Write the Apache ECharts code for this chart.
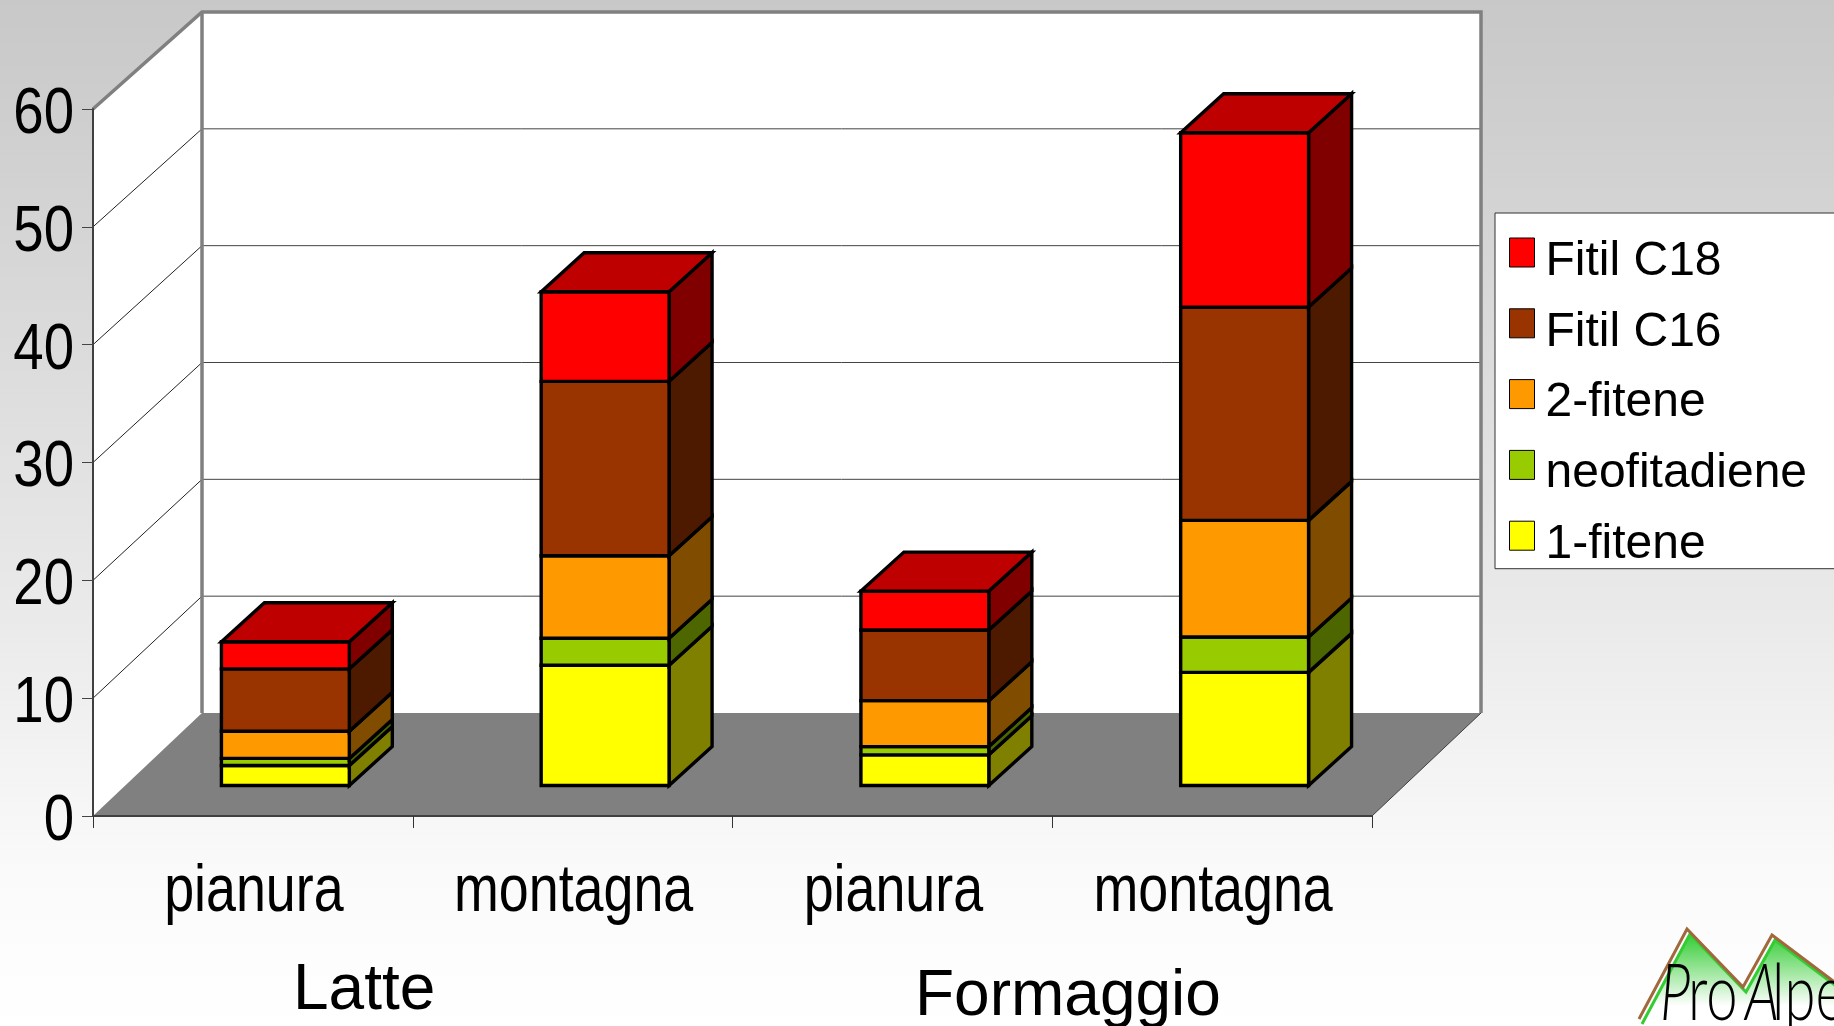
<!DOCTYPE html>
<html>
<head>
<meta charset="utf-8">
<style>html,body{margin:0;padding:0;background:#fff}#chart{width:1834px;height:1026px}</style>
<script src="https://cdn.jsdelivr.net/npm/echarts@6/dist/echarts.min.js"></script>
</head>
<body>
<div id="chart"></div>
<script>
// Phytene and phytyl compounds in milk and cheese, lowland versus mountain
const categories = ['pianura', 'montagna', 'pianura', 'montagna'];
const yTicks = [0, 10, 20, 30, 40, 50, 60];
const fitene1 = [1.7, 10.2, 2.6, 9.6];
const neofitadiene = [0.6, 2.3, 0.7, 3.0];
const fitene2 = [2.3, 7.0, 3.9, 9.9];
const fitilC16 = [5.3, 14.8, 6.0, 18.1];
const fitilC18 = [2.3, 7.6, 3.3, 14.8];

const stack = [
  { name: '1-fitene', values: fitene1, front: '#ffff00', side: '#808000' },
  { name: 'neofitadiene', values: neofitadiene, front: '#99cc00', side: '#4d6600' },
  { name: '2-fitene', values: fitene2, front: '#ff9900', side: '#804d00' },
  { name: 'Fitil C16', values: fitilC16, front: '#993300', side: '#4d1a00' },
  { name: 'Fitil C18', values: fitilC18, front: '#ff0000', side: '#800000', topFace: '#bf0000' }
];

// Oblique projection of the chart box
const BOX_DX = 109, BOX_DY = -103, BOX_TOP_DY = -97;
const BAR_SHIFT_X = 32.5, BAR_SHIFT_Y = -30.5;
const BAR_DX = 43, BAR_DY = -39;
const BAR_WIDTH_RATIO = 0.4;
const WALL = '#808080';
const SANS = '"Liberation Sans", Arial, sans-serif';
// Legend swatch: a 25x29 box sitting above the centre of its text line
const SWATCH = 'path://M0 0H25V29H0Z M0 47h0';

const chart = echarts.init(document.getElementById('chart'));

function renderBox(params, api) {
  const cs = params.coordSys;
  const v = api.value(0);
  const maxV = yTicks[yTicks.length - 1];
  const children = [];
  const back = (val, y) => y + BOX_DY + (BOX_TOP_DY - BOX_DY) * val / maxV;
  const L = cs.x, R = cs.x + cs.width, T = cs.y, B = cs.y + cs.height;
  const bL = L + BOX_DX, bR = R + BOX_DX, bT = back(maxV, T), bB = back(0, B);
  if (params.dataIndex === 0) {
    children.push(
      { type: 'polygon', shape: { points: [[L, T], [bL, bT], [bL, bB], [L, B]] }, style: { fill: '#fff' } },
      { type: 'rect', shape: { x: bL, y: bT, width: bR - bL, height: bB - bT }, style: { fill: '#fff' } },
      { type: 'polygon', shape: { points: [[L, B], [bL, bB], [bR, bB], [R, B]] }, style: { fill: WALL } },
      { type: 'line', shape: { x1: R, y1: B, x2: bR, y2: bB }, style: { stroke: '#404040', lineWidth: 1 } }
    );
  }
  const y = api.coord([0, v])[1];
  if (v > 0 && v < maxV) {
    children.push(
      { type: 'line', shape: { x1: L, y1: y, x2: bL, y2: back(v, y) }, style: { stroke: '#222', lineWidth: 1 } },
      { type: 'line', shape: { x1: bL, y1: back(v, y), x2: bR, y2: back(v, y) }, style: { stroke: '#444', lineWidth: 1 } }
    );
  }
  if (params.dataIndex === yTicks.length - 1) {
    children.push({
      type: 'polyline',
      shape: { points: [[L, T], [bL, bT], [bR, bT], [bR, bB]] },
      style: { fill: 'none', stroke: WALL, lineWidth: 3.5 }
    }, {
      type: 'line',
      shape: { x1: bL, y1: bT, x2: bL, y2: bB },
      style: { stroke: WALL, lineWidth: 3.5 }
    });
  }
  return { type: 'group', children };
}

function renderSegment(layer) {
  return function (params, api) {
    const i = api.value(0);
    const lowPt = api.coord([i, api.value(1)]);
    const highPt = api.coord([i, api.value(2)]);
    const half = api.size([1, 0])[0] * BAR_WIDTH_RATIO / 2;
    const x0 = lowPt[0] + BAR_SHIFT_X - half;
    const x1 = lowPt[0] + BAR_SHIFT_X + half;
    const y0 = lowPt[1] + BAR_SHIFT_Y;
    const y1 = highPt[1] + BAR_SHIFT_Y;
    const line = { stroke: '#000', lineWidth: 3.4, lineJoin: 'miter' };
    const children = [
      { type: 'polygon', shape: { points: [[x1, y0], [x1 + BAR_DX, y0 + BAR_DY], [x1 + BAR_DX, y1 + BAR_DY], [x1, y1]] },
        style: Object.assign({ fill: layer.side }, line) },
      { type: 'polygon', shape: { points: [[x0, y0], [x1, y0], [x1, y1], [x0, y1]] },
        style: Object.assign({ fill: layer.front }, line) }
    ];
    if (layer.topFace) {
      children.push({ type: 'polygon', shape: { points: [[x0, y1], [x1, y1], [x1 + BAR_DX, y1 + BAR_DY], [x0 + BAR_DX, y1 + BAR_DY]] },
        style: Object.assign({ fill: layer.topFace }, line) });
    }
    return { type: 'group', children };
  };
}

// The tick labels use a horizontally condensed face, so they are drawn as scaled text
function renderCategoryLabel(params, api) {
  const i = api.value(0);
  const p = api.coord([i, 0]);
  return {
    type: 'text', x: p[0] + 1, y: p[1] + 44, scaleX: 0.815,
    style: { text: categories[i], fontSize: 66, fontFamily: SANS, fill: '#000', align: 'center', verticalAlign: 'top' }
  };
}
function renderValueLabel(params, api) {
  const v = api.value(1);
  const p = api.coord([0, v]);
  return {
    type: 'text', x: params.coordSys.x - 19, y: p[1] + 6, scaleX: 0.84,
    style: { text: String(v), fontSize: 65, fontFamily: SANS, fill: '#000', align: 'right', verticalAlign: 'middle' }
  };
}

const running = categories.map(() => 0);
const barSeries = stack.map((layer, s) => {
  const data = layer.values.map((val, i) => {
    const item = [i, running[i], running[i] + val];
    running[i] += val;
    return item;
  });
  return {
    type: 'custom',
    name: layer.name,
    z: 3 + s,
    silent: true,
    itemStyle: { color: layer.front },
    encode: { x: 0, y: [1, 2] },
    renderItem: renderSegment(layer),
    data
  };
});

// Mountain ridge of the ProAlpe mark
const ridge = [[1639, 1019], [1687, 929], [1743, 987], [1772, 935], [1845, 990]];
const ridgeInner = ridge.map(p => [p[0] + 3, p[1] + 5]);
const LOGO_FONT = 'Lato, Inter, sans-serif';
const logoText = (text, x, italic) => ({
  type: 'text', z: 33, x, y: 956, scaleX: 0.72,
  style: { text, fontSize: 78, fontStyle: italic ? 'italic' : 'normal', fontWeight: 300, fill: '#000', fontFamily: LOGO_FONT }
});

chart.setOption({
  animation: false,
  backgroundColor: {
    type: 'linear', x: 0, y: 0, x2: 0, y2: 1,
    colorStops: [
      { offset: 0, color: '#c8c8c8' },
      { offset: 0.6, color: '#eaeaea' },
      { offset: 0.85, color: '#fafafa' },
      { offset: 1, color: '#ffffff' }
    ]
  },
  grid: { left: 93, top: 109, width: 1279, height: 707, outerBoundsMode: 'none' },
  xAxis: {
    type: 'category',
    data: categories,
    z: 20,
    axisLine: { lineStyle: { color: '#404040', width: 2 } },
    axisTick: { show: true, length: 12, alignWithLabel: false, lineStyle: { color: '#333', width: 1 } },
    axisLabel: { show: false }
  },
  yAxis: {
    type: 'value', min: 0, max: 60, interval: 10,
    z: 20,
    splitLine: { show: false },
    axisLine: { show: true, lineStyle: { color: '#404040', width: 2 } },
    axisTick: { show: true, length: 11, lineStyle: { color: '#444', width: 1 } },
    axisLabel: { show: false }
  },
  legend: {
    left: 1495, top: 213, orient: 'vertical',
    data: stack.map(d => d.name).reverse(),
    icon: SWATCH, itemWidth: 25, itemHeight: 47, itemGap: 22.8,
    padding: [24.5, 120, 0, 14],
    backgroundColor: '#fff', borderColor: '#333', borderWidth: 1,
    selectedMode: false,
    itemStyle: { borderColor: '#000', borderWidth: 1 },
    textStyle: { color: '#000', fontSize: 48, padding: [0, 0, 0, 6], fontFamily: SANS }
  },
  graphic: [
    { type: 'text', left: 293, top: 959, style: { text: 'Latte', fontSize: 64, fill: '#000', fontFamily: SANS } },
    { type: 'text', left: 915, top: 965, style: { text: 'Formaggio', fontSize: 64, fill: '#000', fontFamily: SANS } },
    { type: 'polygon', z: 30, shape: { points: ridgeInner.concat([[1845, 1030], [1642, 1030]]) },
      style: { fill: { type: 'linear', x: 0, y: 0, x2: 0, y2: 1, colorStops: [
        { offset: 0, color: '#33cc33' }, { offset: 0.75, color: '#ffffff' }, { offset: 1, color: '#ffffff' } ] } } },
    { type: 'polyline', z: 31, shape: { points: ridgeInner }, style: { fill: 'none', stroke: '#33cc33', lineWidth: 3 } },
    { type: 'polyline', z: 32, shape: { points: ridge }, style: { fill: 'none', stroke: '#a0683c', lineWidth: 3 } },
    logoText('P', 1660, true),
    logoText('ro', 1688, false),
    logoText('A', 1745, true),
    logoText('lpe', 1772, false)
  ],
  series: [{
    type: 'custom',
    name: 'box',
    z: 1,
    silent: true,
    encode: { y: 0 },
    renderItem: renderBox,
    data: yTicks.map(t => [t])
  }].concat(barSeries, [{
    type: 'custom',
    name: 'category labels',
    z: 25,
    silent: true,
    encode: { x: 0 },
    renderItem: renderCategoryLabel,
    data: categories.map((c, i) => [i])
  }, {
    type: 'custom',
    name: 'value labels',
    z: 25,
    silent: true,
    encode: { x: 0, y: 1 },
    renderItem: renderValueLabel,
    data: yTicks.map(t => [0, t])
  }])
});
</script>
</body>
</html>
